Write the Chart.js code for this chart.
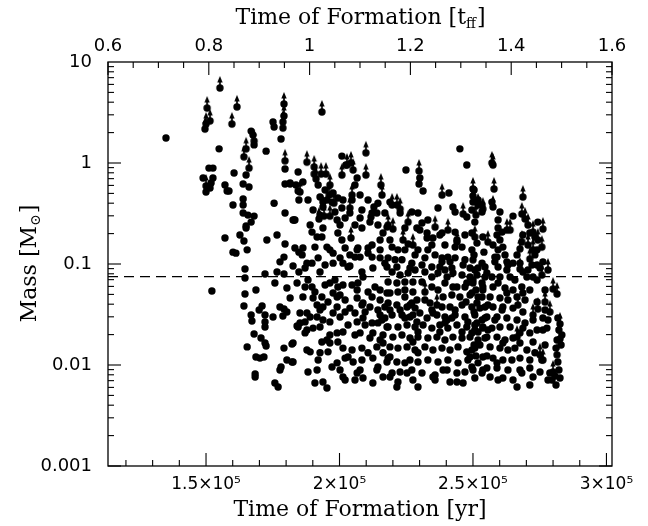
<!DOCTYPE html>
<html lang="en">
<head>
<meta charset="UTF-8">
<title>Time of Formation vs Mass</title>
<script src="https://cdn.jsdelivr.net/npm/chart.js"></script>
<style>
  body { margin: 0; background: #fff; }
  #wrap { width: 648px; height: 526px; }
</style>
</head>
<body>
<div id="wrap"><canvas id="massChart" width="648" height="526"></canvas></div>
<script>
// time of formation in units of 1e5 yr, mass in solar masses
const sinkPoints = [
  [1.350,1.77],[1.549,1.38],[1.669,2.07],[1.676,1.89],[1.680,1.51],[1.725,1.31],[1.751,2.55],[1.755,2.27],[1.781,1.73],[1.796,0.872],
  [1.845,0.815],[1.489,0.71],[1.511,0.89],[1.526,0.89],[1.526,0.71],[1.519,0.634],[1.500,0.516],[1.515,0.565],[1.571,0.605],[1.579,0.528],
  [1.586,0.528],[1.605,0.797],[1.639,0.62],[1.661,0.578],[1.650,0.76],[1.601,0.384],[1.639,0.384],[1.639,0.44],[1.755,0.40],[1.796,0.62],
  [1.815,0.62],[1.845,0.528],[1.848,0.43],[1.639,0.32],[1.657,0.305],[1.680,0.298],[1.669,0.26],[1.650,0.238],[1.650,0.227],[1.796,0.32],
  [1.830,0.273],[1.571,0.181],[1.627,0.194],[1.642,0.169],[1.601,0.131],[1.612,0.128],[1.654,0.138],[1.728,0.173],[1.766,0.194],[1.796,0.158],
  [1.777,0.105],[1.792,0.117],[1.826,0.0955],[1.848,0.131],[1.848,0.0834],[1.646,0.0891],[1.646,0.0726],[1.721,0.0796],[1.766,0.0834],[1.792,0.0796],
  [1.758,0.0649],[1.803,0.0578],[1.522,0.054],[1.687,0.0553],[1.646,0.0505],[1.815,0.046],[1.642,0.0384],[1.669,0.0313],[1.672,0.0273],[1.699,0.035],
  [1.710,0.0384],[1.721,0.0313],[1.721,0.0267],[1.721,0.0238],[1.751,0.0299],[1.777,0.0375],[1.792,0.0358],[1.803,0.0335],[1.788,0.0306],[1.841,0.0243],
  [1.680,0.0203],[1.706,0.0185],[1.721,0.0165],[1.725,0.0154],[1.654,0.0151],[1.822,0.0161],[1.792,0.0147],[1.687,0.012],[1.702,0.0117],[1.717,0.012],
  [1.803,0.0112],[1.822,0.0107],[1.781,0.00955],[1.777,0.00891],[1.684,0.00815],[1.684,0.0076],[1.758,0.00664],[1.770,0.00605],
  [2.009,1.17],[2.024,0.955],[1.826,0.273],[1.890,0.243],[1.897,0.207],[1.938,0.227],[1.916,0.185],[1.934,0.185],[2.002,0.243],[1.994,0.203],
  [2.009,0.173],[2.077,0.285],[2.084,0.227],[2.114,0.26],[2.118,0.292],[2.140,0.32],[2.144,0.40],[2.129,0.367],[2.170,0.32],[2.178,0.232],
  [2.152,0.173],[2.122,0.154],[1.863,0.144],[1.860,0.123],[1.878,0.102],[1.897,0.102],[1.871,0.0912],[1.946,0.0977],[1.976,0.102],[2.002,0.115],
  [2.013,0.102],[2.039,0.123],[2.066,0.138],[2.077,0.117],[2.107,0.128],[2.122,0.117],[2.152,0.115],[2.170,0.102],[2.039,0.0955],[1.964,0.138],
  [1.976,0.128],[1.953,0.147],[1.882,0.0695],[1.897,0.0592],[1.863,0.0471],[1.901,0.046],[1.934,0.0471],[1.964,0.0649],[1.983,0.0695],[1.994,0.0592],
  [2.013,0.0619],[2.047,0.0619],[2.069,0.0649],[2.088,0.0743],[2.107,0.0528],[2.133,0.0592],[2.152,0.0553],[2.122,0.0471],[2.066,0.046],[2.084,0.0393],
  [2.114,0.0375],[2.152,0.044],[2.170,0.0375],[1.976,0.0516],[2.002,0.0493],[2.021,0.044],[1.938,0.0375],[1.991,0.0375],[1.852,0.0327],[1.878,0.0327],
  [1.871,0.0267],[1.916,0.0299],[1.938,0.0279],[1.976,0.0327],[2.002,0.0299],[2.032,0.0249],[2.066,0.0267],[2.096,0.0249],[2.122,0.0261],[2.159,0.0279],
  [2.178,0.0238],[1.845,0.0238],[1.878,0.0222],[1.901,0.0232],[1.927,0.0238],[1.964,0.0198],[1.991,0.0208],[2.013,0.0212],[2.077,0.0208],[2.125,0.0208],
  [2.163,0.0198],[2.152,0.0177],[1.871,0.0208],[1.934,0.0169],[1.964,0.0165],[1.994,0.0169],[1.826,0.0165],[1.890,0.0135],[1.927,0.0132],[1.957,0.0135],
  [2.013,0.0147],[2.047,0.0141],[2.084,0.0147],[2.107,0.0132],[2.140,0.0151],[2.163,0.0132],[1.826,0.0107],[1.920,0.0112],[1.991,0.0105],[2.021,0.0117],
  [2.051,0.0107],[2.077,0.00891],[2.125,0.0117],[2.144,0.00955],[2.178,0.0107],[1.882,0.00853],[1.916,0.00891],[1.972,0.00955],[2.002,0.00891],[1.908,0.00664],
  [1.938,0.00679],[1.953,0.00592],[2.058,0.0071],[2.088,0.00743],[2.013,0.0076],[2.125,0.00664],[2.163,0.0076],
  [1.946,0.54],[1.976,0.505],[1.994,0.45],[1.953,0.43],[1.927,0.46],[1.983,0.327],[2.009,0.358],[2.021,0.285],[1.991,0.273],[1.882,0.43],
  [1.901,0.342],[1.837,0.605],[1.863,0.649],[2.058,0.605],[2.077,0.482],[2.107,0.43],[2.084,0.342],[2.058,0.243],
  [2.451,1.38],[2.477,0.955],[2.249,0.853],[2.301,0.71],[2.298,0.62],[2.313,0.528],[2.410,0.505],[2.500,0.471],[2.369,0.358],[2.425,0.367],
  [2.433,0.327],[2.477,0.292],[2.500,0.41],[2.534,0.327],[2.271,0.327],[2.294,0.32],[2.331,0.273],[2.290,0.227],[2.301,0.217],[2.328,0.181],
  [2.350,0.181],[2.376,0.194],[2.395,0.154],[2.433,0.147],[2.459,0.147],[2.197,0.147],[2.219,0.138],[2.245,0.138],[2.294,0.138],[2.331,0.138],
  [2.358,0.123],[2.384,0.115],[2.406,0.117],[2.433,0.115],[2.470,0.11],[2.182,0.115],[2.208,0.11],[2.234,0.11],[2.271,0.102],[2.309,0.0977],
  [2.346,0.0933],[2.376,0.0933],[2.421,0.0912],[2.463,0.0977],[2.489,0.0912],[2.519,0.0912],[2.178,0.0933],[2.197,0.0834],[2.227,0.0778],[2.257,0.0815],
  [2.283,0.0873],[2.320,0.0834],[2.346,0.0743],[2.369,0.0815],[2.403,0.0743],[2.425,0.0815],[2.459,0.0778],[2.489,0.0743],[2.515,0.0778],[2.182,0.0664],
  [2.215,0.0649],[2.245,0.0664],[2.275,0.0664],[2.309,0.0664],[2.346,0.0592],[2.395,0.0649],[2.440,0.0592],[2.470,0.0592],[2.500,0.0649],[2.534,0.0649],
  [2.189,0.0516],[2.219,0.0528],[2.245,0.0471],[2.275,0.0528],[2.290,0.044],[2.320,0.044],[2.388,0.0471],[2.421,0.0493],[2.451,0.0471],[2.489,0.0493],
  [2.519,0.0471],[2.182,0.0411],[2.215,0.0393],[2.253,0.0375],[2.283,0.0366],[2.346,0.035],[2.384,0.0375],[2.414,0.0375],[2.459,0.0393],[2.496,0.0375],
  [2.526,0.0366],[2.197,0.0313],[2.234,0.0313],[2.264,0.0299],[2.301,0.0327],[2.328,0.0292],[2.365,0.0313],[2.395,0.0299],[2.433,0.0313],[2.470,0.0299],
  [2.507,0.0313],[2.534,0.0279],[2.182,0.0238],[2.219,0.0238],[2.253,0.0249],[2.283,0.0238],[2.313,0.0249],[2.346,0.0232],[2.376,0.0249],[2.406,0.0232],
  [2.440,0.0249],[2.477,0.0238],[2.507,0.0249],[2.537,0.0232],[2.200,0.0189],[2.234,0.0198],[2.264,0.0185],[2.294,0.0189],[2.331,0.0185],[2.365,0.0189],
  [2.395,0.0177],[2.425,0.0189],[2.459,0.0185],[2.489,0.0189],[2.519,0.0177],[2.189,0.0151],[2.219,0.0147],[2.253,0.0151],[2.283,0.0141],[2.320,0.0151],
  [2.350,0.0141],[2.384,0.0147],[2.414,0.0141],[2.444,0.0151],[2.477,0.0135],[2.507,0.0147],[2.182,0.0117],[2.215,0.0107],[2.264,0.0112],[2.294,0.0107],
  [2.331,0.0112],[2.369,0.0107],[2.406,0.0112],[2.444,0.0105],[2.481,0.0112],[2.519,0.0105],[2.197,0.00834],[2.227,0.00853],[2.271,0.00891],[2.309,0.00834],
  [2.358,0.00796],[2.403,0.00891],[2.440,0.00834],[2.470,0.00853],[2.500,0.00891],[2.534,0.00834],[2.275,0.0071],[2.294,0.00605],[2.358,0.0071],[2.414,0.00679],
  [2.440,0.00679],[2.219,0.00679],[2.507,0.00743],
  [2.650,0.298],[2.594,0.273],[2.590,0.194],[2.601,0.173],[2.612,0.147],[2.620,0.123],[2.590,0.117],[2.594,0.0933],[2.631,0.0977],[2.650,0.102],
  [2.541,0.131],[2.545,0.0933],[2.545,0.0743],[2.571,0.0743],[2.601,0.0743],[2.639,0.0743],[2.657,0.0695],[2.702,0.0743],[2.725,0.0743],[2.740,0.0695],
  [2.537,0.0592],[2.575,0.0592],[2.620,0.0578],[2.650,0.0553],[2.683,0.0592],[2.687,0.0516],[2.534,0.0471],[2.564,0.0471],[2.601,0.046],[2.631,0.044],
  [2.665,0.0471],[2.545,0.0375],[2.575,0.0375],[2.612,0.0375],[2.650,0.0366],[2.687,0.0335],[2.725,0.0279],[2.552,0.0299],[2.590,0.0299],[2.627,0.0292],
  [2.665,0.0279],[2.537,0.0238],[2.571,0.0232],[2.601,0.0238],[2.639,0.0238],[2.687,0.0232],[2.713,0.0208],[2.777,0.0232],[2.552,0.0189],[2.590,0.0189],
  [2.620,0.0177],[2.650,0.0185],[2.676,0.0165],[2.725,0.0169],[2.564,0.0151],[2.601,0.0147],[2.631,0.0141],[2.657,0.0147],[2.702,0.0141],[2.732,0.0132],
  [2.537,0.012],[2.575,0.0117],[2.612,0.0112],[2.646,0.0112],[2.676,0.0117],[2.713,0.0112],[2.758,0.0112],[2.552,0.00933],[2.590,0.00933],[2.631,0.00891],
  [2.676,0.00891],[2.713,0.00933],[2.612,0.00743],[2.650,0.0071],[2.665,0.00605],[2.683,0.00834],[2.725,0.0076],[2.796,0.0071],[2.788,0.00834],[2.822,0.0222],
  [2.830,0.0158],[2.818,0.0107],[2.826,0.00743],[2.811,0.00634],[2.833,0.0198],[2.818,0.0292],[2.781,0.0071],[2.713,0.00634],[2.751,0.00853],[2.770,0.0158],
  [2.770,0.035],[2.781,0.0279],[2.762,0.0222],
  // second reading of the crowded middle
  [2.066,0.71],[1.815,0.634],[1.920,0.605],[1.938,0.41],[1.972,0.41],[1.927,0.305],[1.833,0.273],[2.013,0.43],[2.047,0.43],[2.039,0.32],
  [2.122,0.32],[2.189,0.41],[2.227,0.32],[2.519,0.43],[2.496,0.342],[2.534,0.384],[2.571,0.41],[2.601,0.327],[2.144,0.243],[2.163,0.203],
  [2.189,0.173],[2.245,0.227],[2.309,0.255],[2.328,0.203],[2.384,0.203],[2.433,0.207],[2.440,0.173],[2.470,0.194],[2.496,0.203],[2.515,0.161],
  [2.537,0.185],[2.687,0.194],[2.713,0.203],[2.732,0.185],[1.833,0.144],[1.908,0.147],[2.021,0.144],[2.069,0.144],[2.107,0.144],[2.152,0.138],
  [2.496,0.138],[2.594,0.138],[2.740,0.138],[2.032,0.0933],[2.058,0.117],[2.084,0.0834],[2.125,0.0912],[2.215,0.0933],[2.264,0.0912],[2.384,0.105],
  [2.395,0.0873],[2.507,0.0873],[2.534,0.102],[2.552,0.0815],[2.582,0.117],[2.627,0.0873],[2.676,0.102],[2.687,0.0834],[2.740,0.0977],[2.751,0.0912],
  [1.841,0.0649],[1.871,0.0592],[1.916,0.0393],[1.991,0.0471],[2.066,0.0553],[2.088,0.0411],[2.144,0.035],[2.178,0.0516],[2.245,0.0553],[2.271,0.0411],
  [2.339,0.0411],[2.369,0.0553],[2.425,0.0592],[2.477,0.0649],[2.496,0.0516],[2.515,0.0411],[2.537,0.0553],[2.594,0.0649],[2.627,0.0516],[2.695,0.044],
  [2.713,0.0553],[2.740,0.042],[2.770,0.0553],[1.852,0.0261],[1.890,0.0299],[1.927,0.035],[2.058,0.0327],[2.088,0.0292],[2.144,0.0261],[2.152,0.0313],
  [2.227,0.035],[2.275,0.0313],[2.294,0.0212],[2.350,0.0327],[2.376,0.0212],[2.403,0.0279],[2.433,0.035],[2.496,0.0208],[2.515,0.0261],[2.556,0.0222],
  [2.582,0.0279],[2.609,0.035],[2.676,0.0208],[2.695,0.0261],[2.740,0.0222],[2.762,0.0292],[1.878,0.0141],[1.953,0.0177],[2.032,0.012],[2.084,0.0112],
  [2.114,0.0185],[2.163,0.0165],[2.189,0.012],[2.245,0.0105],[2.275,0.0169],[2.294,0.0132],[2.496,0.0141],[2.590,0.0105],[2.612,0.0165],[2.021,0.0071],
  [2.066,0.00834],[2.140,0.00891],[2.189,0.0076],[2.215,0.00605],[2.253,0.00834],[2.350,0.0076],[2.388,0.00891],[2.463,0.00664],[2.496,0.00955],[2.537,0.00891],
  [2.564,0.0076],[2.594,0.0071],
  // vertical streaks and dense knots
  [2.504,0.54],[2.507,0.26],[2.504,0.123],[2.500,0.0695],[2.511,0.0553],[2.504,0.0335],[2.507,0.0222],[2.504,0.0158],[2.511,0.0123],[2.594,0.227],
  [2.609,0.207],[2.627,0.105],[2.582,0.105],[2.575,0.154],[2.743,0.26],[2.732,0.123],[2.762,0.105],[2.721,0.0977],[2.706,0.0873],[2.665,0.123],
  [2.815,0.0177],[2.811,0.0147],[2.822,0.00891],[2.807,0.00778],[2.474,0.042],[2.545,0.0292],[2.481,0.0267],[2.556,0.0393],[2.519,0.0212],[2.526,0.0158],
  [2.552,0.0123],[2.489,0.012],[2.545,0.0185],[2.395,0.0261],[2.421,0.0292],[2.459,0.0212],[2.170,0.0292],[2.245,0.0292],[2.290,0.0267],[2.264,0.0393],
  [2.189,0.035],[2.039,0.0366],[2.096,0.0335],[2.058,0.0198],[2.021,0.0335],[1.964,0.0267],[2.283,0.123],[2.320,0.115],[2.414,0.105],[2.257,0.158],
  [2.346,0.154],[1.920,0.115],[1.927,0.0834],[1.946,0.0619],[1.908,0.0528],[1.957,0.042]
];

// sinks still accreting: mass is a lower limit (drawn with an upward arrow)
const lowerLimitPoints = [
  [1.552,5.53],[1.504,3.50],[1.616,3.59],[1.496,2.17],[1.500,2.43],[1.515,2.61],[1.597,2.43],[1.792,3.84],[1.792,2.92],[1.788,2.55],
  [1.788,2.22],[1.796,1.05],[1.661,0.89],[1.650,1.38],[1.642,1.15],[1.680,1.65],[1.500,0.592],
  [1.878,1.02],[1.905,0.913],[1.905,0.778],[1.931,0.778],[1.949,0.778],[1.852,0.516],[1.912,0.695],[2.009,0.76],[2.028,0.955],[2.043,1.00],
  [2.099,1.26],[2.099,0.76],[2.051,0.853],[1.964,0.605],[1.961,0.482],[1.979,0.40],[1.938,0.367],[1.942,0.298],[1.923,0.279],[1.964,0.298],
  [2.047,0.482],[2.039,0.358],[2.043,0.181],[2.155,0.605],[2.159,0.482],[1.934,3.20],
  [2.298,0.833],[2.384,0.482],[2.500,0.553],[2.463,0.313],[2.519,0.384],[2.197,0.384],[2.215,0.384],[2.227,0.35],[2.182,0.243],[2.200,0.222],
  [2.257,0.26],[2.358,0.232],[2.406,0.217],[2.238,0.173],[2.275,0.154],[2.507,0.185],[2.440,0.165],[2.320,0.0528],[2.365,0.0393],[2.500,0.11],
  [2.571,1.00],
  [2.575,0.955],[2.579,0.553],[2.575,0.367],[2.537,0.35],[2.687,0.46],[2.683,0.313],[2.695,0.279],[2.627,0.217],[2.639,0.217],[2.556,0.165],
  [2.762,0.222],[2.743,0.173],[2.676,0.141],[2.683,0.165],[2.706,0.154],[2.725,0.138],[2.713,0.112],[2.676,0.0891],[2.781,0.0873],[2.758,0.0778],
  [2.800,0.0565],[2.815,0.0505],[2.770,0.042],[2.788,0.0335],[2.743,0.0358],[2.725,0.0313],[2.826,0.0255],[2.826,0.0181],[2.815,0.0126],[2.800,0.00853],
  [2.751,0.0126],[2.758,0.147],[2.668,0.0393],[2.665,0.0189],[2.762,0.0112],[2.706,0.243],[2.725,0.207],[2.511,0.305]
];

const hydrogenBurningLimit = 0.075;      // dashed line, solar masses
const timeTicks = [1.5, 2, 2.5, 3];      // 1e5 yr
const freeFallTicks = [0.6, 0.8, 1, 1.2, 1.4, 1.6];
const massTicks = [0.001, 0.01, 0.1, 1, 10];
const freeFallTime = 1.888;              // t_ff in 1e5 yr
const tffRange = [0.6, 1.6];

const toXY = p => ({x: p[0], y: p[1]});

// arrow marker: dot at the centre, arrow pointing up
const arrowMark = document.createElement('canvas');
arrowMark.width = 12; arrowMark.height = 28;
(function () {
  const c = arrowMark.getContext('2d');
  c.fillStyle = '#000'; c.strokeStyle = '#000';
  c.beginPath(); c.arc(6, 14, 3.7, 0, Math.PI * 2); c.fill();
  c.lineWidth = 1.7;
  c.beginPath(); c.moveTo(6, 14); c.lineTo(6, 6); c.stroke();
  c.beginPath(); c.moveTo(6, 2); c.lineTo(3.3, 8.5); c.lineTo(8.7, 8.5); c.closePath(); c.fill();
})();

const xMin = tffRange[0] * freeFallTime, xMax = tffRange[1] * freeFallTime;

const serif = '"DejaVu Serif", serif';
const sans = '"DejaVu Sans", sans-serif';

const frame = {
  id: 'frame',
  afterDraw(chart) {
    const {ctx, chartArea: a, scales} = chart;
    ctx.save();
    ctx.strokeStyle = '#000';
    ctx.lineWidth = 1.3;
    ctx.strokeRect(a.left, a.top, a.right - a.left, a.bottom - a.top);
    const line = (x1, y1, x2, y2) => { ctx.beginPath(); ctx.moveTo(x1, y1); ctx.lineTo(x2, y2); ctx.stroke(); };
    ctx.lineWidth = 1.1;
    // bottom: every 1e4 yr
    for (let k = 12; k <= 30; k++) {
      const px = scales.x.getPixelForValue(k / 10);
      line(px, a.bottom, px, a.bottom - (k % 5 === 0 ? 13 : 6));
    }
    // top: every 0.05 t_ff
    for (let k = 12; k <= 32; k++) {
      const px = scales.x2.getPixelForValue(k / 20);
      line(px, a.top, px, a.top + (k % 4 === 0 ? 13 : 6));
    }
    // left and right: log ticks
    for (let d = -3; d <= 0; d++) {
      for (let j = 1; j <= 9; j++) {
        const py = scales.y.getPixelForValue(j * Math.pow(10, d));
        const len = j === 1 ? 13 : 6;
        line(a.left, py, a.left + len, py);
        line(a.right, py, a.right - len, py);
      }
    }
    // titles
    ctx.fillStyle = '#000';
    ctx.textBaseline = 'middle';
    ctx.font = '22px ' + serif;
    const cx = (a.left + a.right) / 2;
    ctx.textAlign = 'center';
    ctx.fillText('Time of Formation [yr]', cx, 510);

    const drawWithSub = (pre, sub, post, x, y) => {
      ctx.textAlign = 'left';
      ctx.font = '22px ' + serif;
      const w1 = ctx.measureText(pre).width, w3 = ctx.measureText(post).width;
      ctx.font = '14px ' + serif;
      const w2 = ctx.measureText(sub).width;
      let sx = x - (w1 + w2 + w3) / 2;
      ctx.font = '22px ' + serif;
      ctx.fillText(pre, sx, y);
      ctx.font = '14px ' + serif;
      ctx.fillText(sub, sx + w1, y + 6);
      ctx.font = '22px ' + serif;
      ctx.fillText(post, sx + w1 + w2 + 1, y);
    };
    drawWithSub('Time of Formation [t', 'ff', ']', cx, 18);
    ctx.save();
    ctx.translate(30, (a.top + a.bottom) / 2);
    ctx.rotate(-Math.PI / 2);
    drawWithSub('Mass [M', '\u2299', ']', 0, 0);
    ctx.restore();
    ctx.restore();
  }
};

new Chart(document.getElementById('massChart'), {
  type: 'scatter',
  data: {
    datasets: [
      {
        data: [{x: xMin, y: hydrogenBurningLimit}, {x: xMax, y: hydrogenBurningLimit}],
        showLine: true, borderColor: '#000', borderWidth: 1.2, borderDash: [10, 6],
        pointRadius: 0, pointHoverRadius: 0
      },
      {
        data: sinkPoints.map(toXY),
        pointStyle: 'circle', pointRadius: 3.7, pointHoverRadius: 3.7,
        backgroundColor: '#000', borderWidth: 0
      },
      {
        data: lowerLimitPoints.map(toXY),
        pointStyle: arrowMark, pointRadius: 6, pointHoverRadius: 6
      }
    ]
  },
  options: {
    responsive: false,
    animation: false,
    devicePixelRatio: 1,
    events: [],
    layout: {padding: {left: 0, right: 36, top: 0, bottom: 0}},
    plugins: {legend: {display: false}, tooltip: {enabled: false}},
    scales: {
      x: {
        type: 'linear', position: 'bottom', min: xMin, max: xMax,
        grid: {display: false, drawTicks: false}, border: {display: false},
        afterBuildTicks: s => { s.ticks = timeTicks.map(v => ({value: v})); },
        afterFit: s => { s.height = 60; },
        ticks: {
          padding: 8, color: '#000', font: {family: sans, size: 17},
          maxRotation: 0, autoSkip: false,
          callback: v => v + '\u00d710\u2075'
        }
      },
      x2: {
        type: 'linear', position: 'top', min: tffRange[0], max: tffRange[1],
        grid: {display: false, drawTicks: false}, border: {display: false},
        afterBuildTicks: s => { s.ticks = freeFallTicks.map(v => ({value: v})); },
        afterFit: s => { s.height = 62; },
        ticks: {
          padding: 5, color: '#000', font: {family: sans, size: 18},
          maxRotation: 0, autoSkip: false,
          callback: v => String(+v.toFixed(1))
        }
      },
      y: {
        type: 'logarithmic', position: 'left', min: 0.001, max: 10,
        grid: {display: false, drawTicks: false}, border: {display: false},
        afterBuildTicks: s => { s.ticks = massTicks.map(v => ({value: v})); },
        afterFit: s => { s.width = 108; },
        ticks: {
          padding: 16, color: '#000', font: {family: sans, size: 18},
          autoSkip: false,
          callback: v => String(v)
        }
      }
    }
  },
  plugins: [frame]
});
</script>
</body>
</html>
